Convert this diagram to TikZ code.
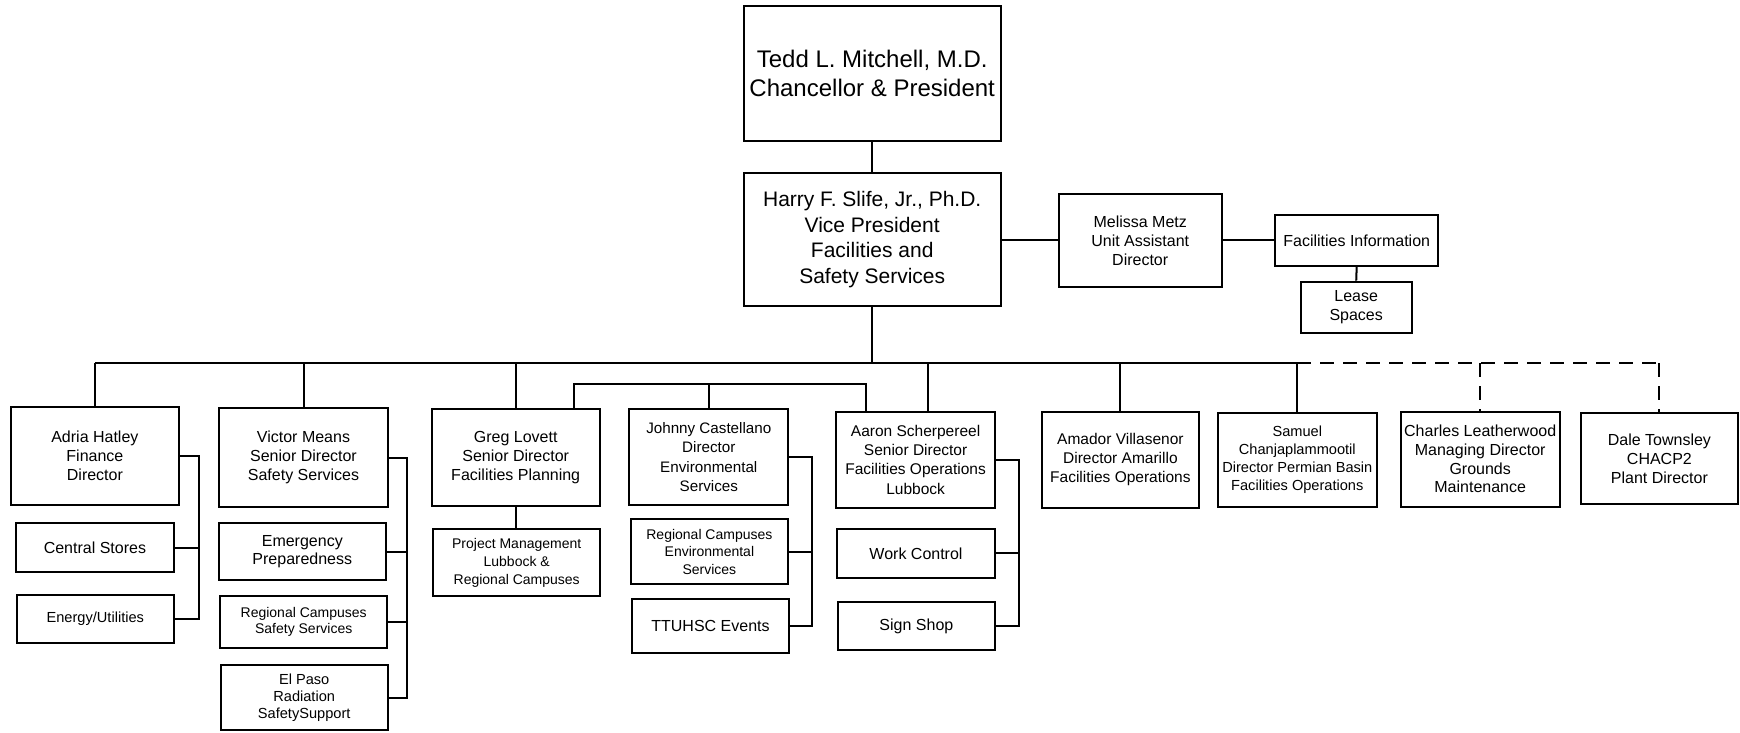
\documentclass[tikz,border=0pt]{standalone}
\usepackage{fontspec}
\setmainfont{Liberation Sans}
\begin{document}
\begin{tikzpicture}[x=1pt,y=-1pt,
  box/.style={draw, line width=2pt, align=center, inner sep=0pt, font=\fontsize{16}{19}\selectfont},
  conn/.style={line width=2pt},
  dconn/.style={line width=2pt, dash pattern=on 14pt off 9pt}]
\useasboundingbox (0,0) rectangle (1740,732);

% top
\node[box, minimum width=257.2, minimum height=135, font=\fontsize{24}{29}\selectfont] (tedd) at (872.2,73.4) {Tedd L. Mitchell, M.D.\\Chancellor \& President};
\node[box, minimum width=257.2, minimum height=132.7, font=\fontsize{21}{25.5}\selectfont] (vp) at (872.2,239.7) {Harry F. Slife, Jr., Ph.D.\\Vice President\\Facilities and\\Safety Services};
\node[box, minimum width=162.8, minimum height=92.7] (mel) at (1140.2,240.3) {Melissa Metz\\Unit Assistant\\Director};
\node[box, minimum width=163.3, minimum height=50.7] (fi) at (1356.7,240.3) {Facilities Information};
\node[box, minimum width=111.3, minimum height=51] (lease) at (1356.2,307.2) {Lease\\Spaces};

% level 1
\node[box, minimum width=168.3, minimum height=98.3] (adria) at (94.9,455.8) {Adria Hatley\\Finance\\Director};
\node[box, minimum width=158.3, minimum height=48.4] (cs) at (94.9,547.5) {Central Stores};
\node[box, minimum width=157.3, minimum height=48.3, font=\fontsize{14.6}{17}\selectfont] (eu) at (95.3,619.2) {Energy/Utilities};

\node[box, minimum width=168.4, minimum height=98.4] (victor) at (303.5,457.5) {Victor Means\\Senior Director\\Safety Services};
\node[box, minimum width=167.3, minimum height=56.7, font=\fontsize{16}{18.3}\selectfont] (emer) at (302.3,551.7) {Emergency\\Preparedness};
\node[box, minimum width=167.3, minimum height=52.6, font=\fontsize{14}{16.7}\selectfont] (rcss) at (303.7,622) {Regional Campuses\\Safety Services};
\node[box, minimum width=167, minimum height=65.7, font=\fontsize{14.6}{16.7}\selectfont] (elp) at (304.2,697.6) {El Paso\\Radiation\\SafetySupport};

\node[box, minimum width=168.4, minimum height=96.4] (greg) at (515.7,457.5) {Greg Lovett\\Senior Director\\Facilities Planning};
\node[box, minimum width=166.5, minimum height=66.7, font=\fontsize{14}{17.7}\selectfont] (pm) at (516.7,562.7) {Project Management\\Lubbock \&\\Regional Campuses};

\node[box, minimum width=158.9, minimum height=96, font=\fontsize{15.2}{19.4}\selectfont] (johnny) at (708.8,457) {Johnny Castellano\\Director\\Environmental\\Services};
\node[box, minimum width=157.7, minimum height=64.7, font=\fontsize{14}{17.5}\selectfont] (rce) at (709.4,551.7) {Regional Campuses\\Environmental\\Services};
\node[box, minimum width=156.2, minimum height=53.4] (ttu) at (710.5,626) {TTUHSC Events};

\node[box, minimum width=158.4, minimum height=96, font=\fontsize{15.5}{19.3}\selectfont] (aaron) at (915.6,459.7) {Aaron Scherpereel\\Senior Director\\Facilities Operations\\Lubbock};
\node[box, minimum width=157.7, minimum height=48.7] (wc) at (916,553.4) {Work Control};
\node[box, minimum width=156.9, minimum height=48.3] (ss) at (916.4,625.9) {Sign Shop};

\node[box, minimum width=157.7, minimum height=96, font=\fontsize{15.5}{18.8}\selectfont] (amador) at (1120.4,459.7) {Amador Villasenor\\Director Amarillo\\Facilities Operations};
\node[box, minimum width=158.6, minimum height=94, font=\fontsize{14.6}{17.8}\selectfont] (samuel) at (1297.3,459.7) {Samuel\\Chanjaplammootil\\Director Permian Basin\\Facilities Operations};
\node[box, minimum width=159, minimum height=95, font=\fontsize{16}{18.7}\selectfont] (charles) at (1480.2,459.2) {Charles Leatherwood\\Managing Director\\Grounds\\Maintenance};
\node[box, minimum width=157.6, minimum height=90.7] (dale) at (1659.4,458.7) {Dale Townsley\\CHACP2\\Plant Director};

% bus coordinates
\coordinate (bus) at (0,363.3);
\coordinate (sub) at (0,384.3);
\coordinate (ax) at (199,0);
\coordinate (vx) at (407.3,0);
\coordinate (jx) at (812.3,0);
\coordinate (rx) at (1018.9,0);

% top connectors
\draw[conn] (tedd.south) -- (vp.north);
\draw[conn] (vp.south) -- (vp.south |- bus);
\draw[conn] (vp.east) -- (vp.east -| mel.west);
\draw[conn] (mel.east) -- (mel.east -| fi.west);
\draw[conn] (fi.south) -- (lease.north);

% main bus
\draw[conn] (adria.north |- bus) -- (samuel.north |- bus);
\draw[dconn] (samuel.north |- bus) -- (dale.north |- bus);
\foreach \n in {adria,victor,greg,amador,samuel}
  \draw[conn] (\n.north) -- (\n.north |- bus);
\draw[conn] ([xshift=12.2pt]aaron.north) -- ([xshift=12.2pt]aaron.north |- bus);
\draw[dconn] (charles.north |- bus) -- (charles.north);
\draw[dconn] (dale.north |- bus) -- (dale.north);

% sub bus
\draw[conn] ([xshift=58.1pt]greg.north) -- ([xshift=58.1pt]greg.north |- sub)
  -- ([xshift=-49.4pt]aaron.north |- sub) -- ([xshift=-49.4pt]aaron.north);
\draw[conn] (johnny.north) -- (johnny.north |- sub);

% side connectors
\draw[conn] (adria.east) -- (adria.east -| ax) -- (eu.east -| ax) -- (eu.east);
\draw[conn] (cs.east) -- (cs.east -| ax);

\draw[conn] (victor.east) -- (victor.east -| vx) -- (elp.east -| vx) -- (elp.east);
\draw[conn] (emer.east) -- (emer.east -| vx);
\draw[conn] (rcss.east) -- (rcss.east -| vx);

\draw[conn] (greg.south) -- (greg.south |- pm.north);

\draw[conn] (johnny.east) -- (johnny.east -| jx) -- (ttu.east -| jx) -- (ttu.east);
\draw[conn] (rce.east) -- (rce.east -| jx);

\draw[conn] (aaron.east) -- (aaron.east -| rx) -- (ss.east -| rx) -- (ss.east);
\draw[conn] (wc.east) -- (wc.east -| rx);
\end{tikzpicture}
\end{document}
